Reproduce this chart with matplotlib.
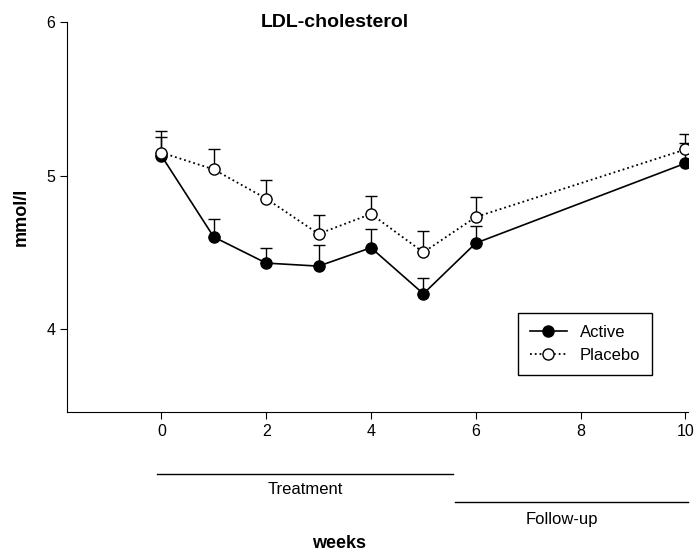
import numpy as np
import matplotlib.pyplot as plt
import matplotlib.transforms as mtransforms

plt.rcParams['font.family'] = ['Liberation Sans', 'DejaVu Sans']

weeks = [0, 1, 2, 3, 4, 5, 6, 10]
active = [5.13, 4.60, 4.43, 4.41, 4.53, 4.23, 4.56, 5.08]
active_err = [0.12, 0.12, 0.10, 0.14, 0.12, 0.10, 0.11, 0.13]
placebo = [5.15, 5.04, 4.85, 4.62, 4.75, 4.50, 4.73, 5.17]
placebo_err = [0.14, 0.13, 0.12, 0.12, 0.12, 0.14, 0.13, 0.10]

fig = plt.figure(figsize=(6.95, 5.51), dpi=100)
ax = fig.add_axes([0.0964, 0.2523, 0.8936, 0.7077])

# upward-only error bars
ax.errorbar(weeks, active, yerr=[np.zeros(len(active)), active_err],
            fmt='none', ecolor='black', elinewidth=1, capsize=4, capthick=1, zorder=2)
ax.errorbar(weeks, placebo, yerr=[np.zeros(len(placebo)), placebo_err],
            fmt='none', ecolor='black', elinewidth=1, capsize=4, capthick=1, zorder=2)
ax.plot(weeks, active, '-o', color='black', mfc='black', mec='black', ms=8,
        lw=1.2, label='Active', zorder=3)
ax.plot(weeks, placebo, ':o', color='black', mfc='white', mec='black', ms=8,
        lw=1.3, label='Placebo', zorder=4)

ax.set_xlim(-1.8, 10.05)
ax.set_ylim(3.46, 6)
ax.set_xticks([0, 2, 4, 6, 8, 10])
ax.set_yticks([4, 5, 6])
ax.spines['top'].set_visible(False)
ax.spines['right'].set_visible(False)
ax.tick_params(labelsize=11.5, length=5, direction='out')

ax.text(0.432, 1.0, 'LDL-cholesterol', transform=ax.transAxes, ha='center', va='center',
        fontsize=14, fontweight='bold')
ax.set_ylabel('mmol/l', fontsize=13, fontweight='bold', labelpad=12)

trans = mtransforms.blended_transform_factory(ax.transData, ax.transAxes)
ax.plot([-0.08, 5.56], [-0.159, -0.159], color='black', lw=1, transform=trans, clip_on=False)
ax.text(2.74, -0.20, 'Treatment', transform=trans, ha='center', va='center', fontsize=12)
ax.plot([5.6, 10.05], [-0.231, -0.231], color='black', lw=1, transform=trans, clip_on=False)
ax.text(7.64, -0.277, 'Follow-up', transform=trans, ha='center', va='center', fontsize=12)
ax.text(3.4, -0.336, 'weeks', transform=trans, ha='center', va='center',
        fontsize=13, fontweight='bold')

leg = ax.legend(loc='lower right', bbox_to_anchor=(0.942, 0.095), fontsize=12,
                frameon=True, fancybox=False, edgecolor='black', framealpha=1,
                handlelength=2.2, borderpad=0.7, labelspacing=0.5, borderaxespad=0)
leg.get_frame().set_linewidth(1)

fig.savefig('out.png', dpi=100)
